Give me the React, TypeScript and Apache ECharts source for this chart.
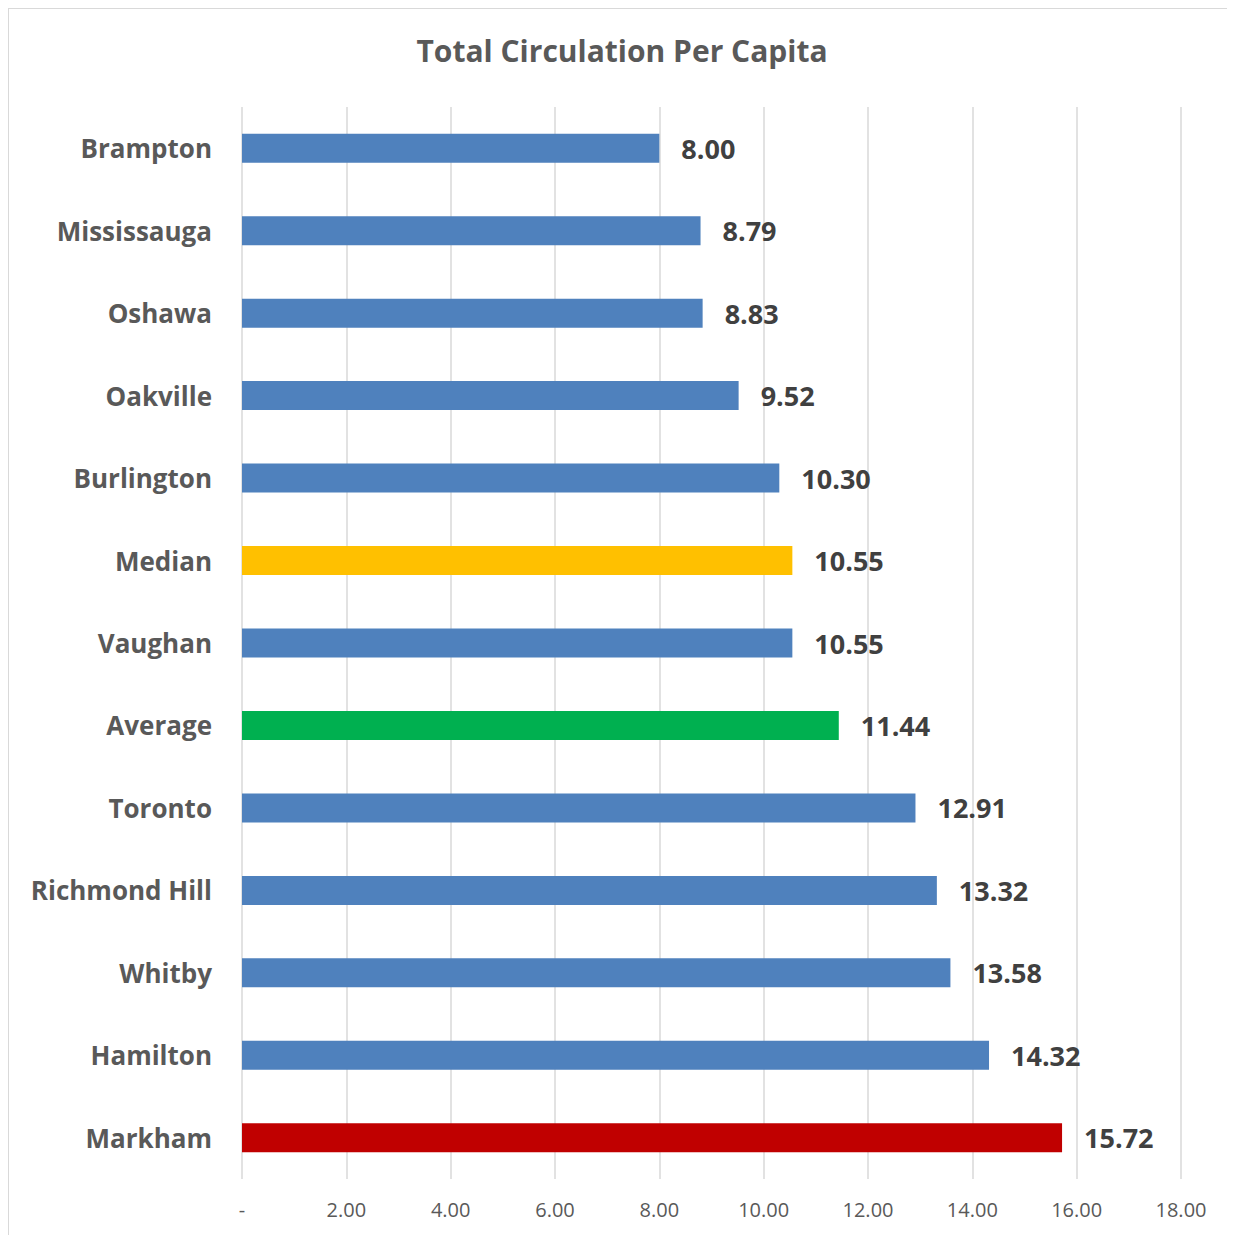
import React, { useEffect, useRef } from "react";
import * as echarts from "echarts";

const categories = [
  "Brampton", "Mississauga", "Oshawa", "Oakville", "Burlington", "Median",
  "Vaughan", "Average", "Toronto", "Richmond Hill", "Whitby", "Hamilton", "Markham",
];
const values = [8.0, 8.79, 8.83, 9.52, 10.3, 10.55, 10.55, 11.44, 12.91, 13.32, 13.58, 14.32, 15.72];
const barColors = [
  "#4f81bd", "#4f81bd", "#4f81bd", "#4f81bd", "#4f81bd", "#ffc000",
  "#4f81bd", "#00b050", "#4f81bd", "#4f81bd", "#4f81bd", "#4f81bd", "#c00000",
];
const titleText = "Total Circulation Per Capita";

const FONT = "Open Sans";

export default function App() {
  const ref = useRef<HTMLDivElement>(null);
  useEffect(() => {
    const chart = echarts.init(ref.current!, null, { renderer: "svg" });
    chart.setOption({
      animation: false,
      backgroundColor: "#ffffff",
      title: {
        text: titleText,
        left: "center",
        top: 21,
        textStyle: { fontFamily: FONT, fontSize: 30, fontWeight: "bold", color: "#595959" },
      },
      grid: { left: 233, right: 54, top: 98, bottom: 56, containLabel: false },
      xAxis: {
        type: "value",
        min: 0,
        max: 18,
        interval: 2,
        axisLine: { show: false },
        axisTick: { show: false },
        splitLine: { show: true, lineStyle: { color: "#d9d9d9", width: 1.5 } },
        axisLabel: {
          fontFamily: FONT,
          fontSize: 20,
          color: "#595959",
          margin: 20,
          formatter: (v: number) => (v === 0 ? "-" : v.toFixed(2)),
        },
      },
      yAxis: {
        type: "category",
        inverse: true,
        data: categories,
        axisLine: { show: false },
        axisTick: { show: false },
        axisLabel: {
          fontFamily: FONT,
          fontSize: 26,
          fontWeight: "bold",
          color: "#595959",
          margin: 30,
        },
      },
      series: [
        {
          type: "bar",
          barWidth: 29,
          data: values.map((v, i) => ({ value: v, itemStyle: { color: barColors[i] } })),
          label: {
            show: true,
            position: "right",
            distance: 22,
            fontFamily: FONT,
            fontSize: 27,
            fontWeight: "bold",
            color: "#404040",
            formatter: (p: any) => Number(p.value).toFixed(2),
          },
        },
      ],
    });
    return () => chart.dispose();
  }, []);
  return (
    <div
      ref={ref}
      style={{
        width: 1227,
        height: 1227,
        borderTop: "1.5px solid #d9d9d9",
        borderLeft: "1.5px solid #d9d9d9",
        boxSizing: "border-box",
      }}
    />
  );
}
